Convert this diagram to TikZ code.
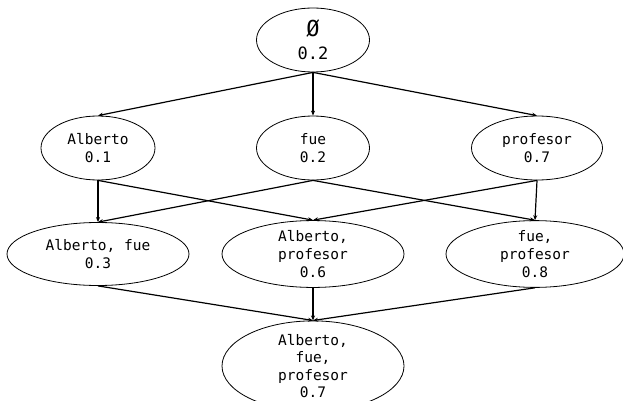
\documentclass[tikz,border=0pt]{standalone}
\usepackage{fontspec}
\setmonofont{DejaVu Sans Mono}
\usetikzlibrary{shapes.geometric,arrows.meta}

\begin{document}
\begin{tikzpicture}[x=1pt,y=-1pt]
			\tikzstyle{every node}+=[inner sep=0pt]
			\tikzstyle{lat}=[draw,ellipse,line width=0.8pt,align=center,
				font=\ttfamily\fontsize{14.5}{18}\selectfont]
			\tikzstyle{edge}=[line width=1.2pt,-{Stealth[length=5pt,width=4pt]}]
			\useasboundingbox (0,0) rectangle (623,401);
			\node [lat,minimum width=113,minimum height=64,
				font=\ttfamily\fontsize{17}{23}\selectfont] (root) at (313,40) {{\fontsize{22}{23}\selectfont Ø}\\0.2};
			\node [lat,minimum width=114,minimum height=64] (alberto) at (98,148) {Alberto\\0.1};
			\node [lat,minimum width=113,minimum height=64] (fue) at (313,148) {fue\\0.2};
			\node [lat,minimum width=131,minimum height=64] (profesor) at (537,148) {profesor\\0.7};
			\node [lat,minimum width=182,minimum height=63] (albfue) at (98,254) {Alberto, fue\\0.3};
			\node [lat,minimum width=182,minimum height=63] (albprof) at (313,254) {Alberto,\\profesor\\0.6};
			\node [lat,minimum width=178,minimum height=63] (fueprof) at (535,254) {fue,\\profesor\\0.8};
			\node [lat,minimum width=182,minimum height=76,
				font=\ttfamily\fontsize{14.5}{17.5}\selectfont] (all) at (313,366) {Alberto,\\fue,\\profesor\\0.7};
			\draw [edge] (root.south) -- (alberto.north);
			\draw [edge] (root.south) -- (fue.north);
			\draw [edge] (root.south) -- (profesor.north);
			\draw [edge] (alberto.south) -- (albfue.north);
			\draw [edge] (alberto.south) -- (albprof.north);
			\draw [edge] (fue.south) -- (albfue.north);
			\draw [edge] (fue.south) -- (fueprof.north);
			\draw [edge] (profesor.south) -- (albprof.north);
			\draw [edge] (profesor.south) -- (fueprof.north);
			\draw [edge] (albfue.south) -- (all.north);
			\draw [edge] (albprof.south) -- (all.north);
			\draw [edge] (fueprof.south) -- (all.north);
\end{tikzpicture}
\end{document}
